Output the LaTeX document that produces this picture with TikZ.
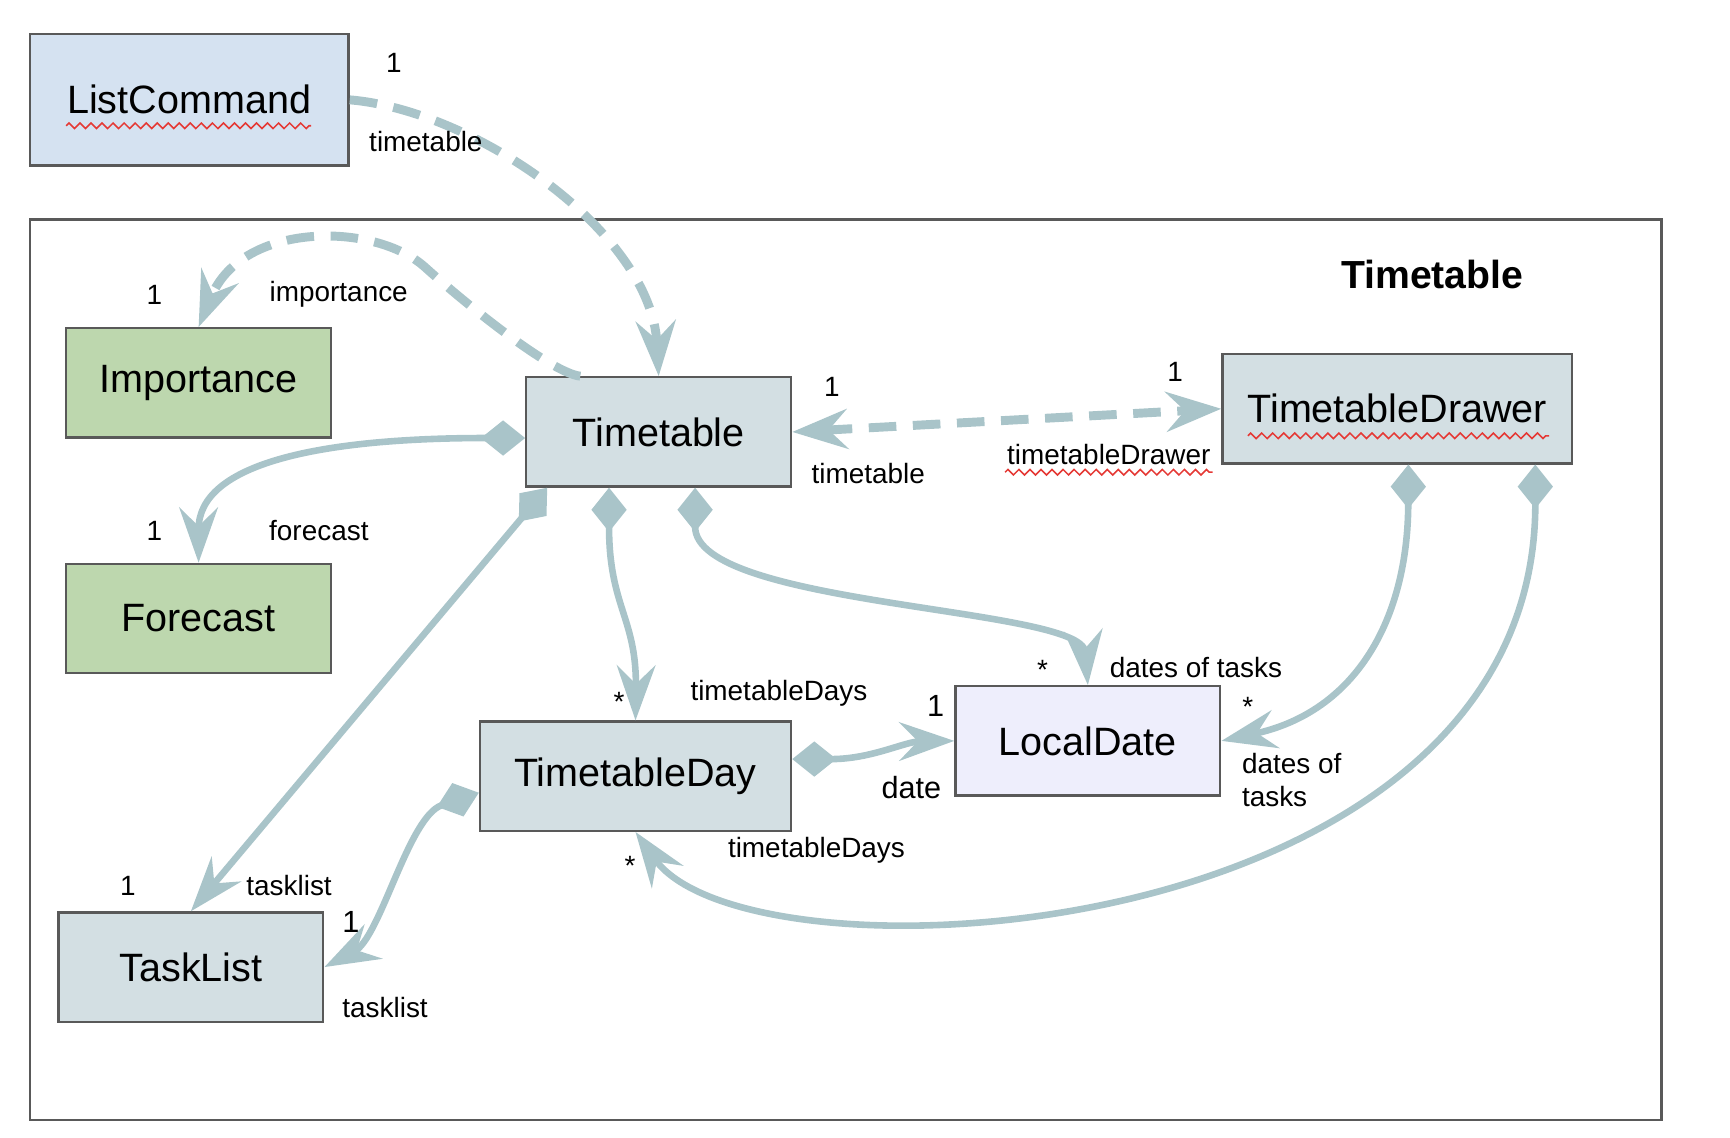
\documentclass[tikz,border=0pt]{standalone}
\usepackage{fontspec}
\setmainfont{Liberation Sans}
\usepackage{tikz}
\usetikzlibrary{arrows.meta,positioning,calc,decorations.pathmorphing}
\definecolor{TTLine}  {HTML}{A9C4C9}
\definecolor{TTBorder}{HTML}{595959}
\definecolor{TTGrey}  {HTML}{D3DFE3}
\definecolor{TTBlue}  {HTML}{D5E2F1}
\definecolor{TTGreen} {HTML}{BDD7AE}
\definecolor{TTLilac} {HTML}{EEEEFC}
\definecolor{TTRed}   {HTML}{E53935}
\tikzset{
  classbox/.style={draw=TTBorder,line width=0.6pt,minimum width=2.4cm,minimum height=0.99cm,
                   inner sep=0pt,font=\fontsize{10.2}{12}\selectfont},
  comparr/.style={{Diamond[length=4mm,width=3.2mm]}->,>={Stealth[length=5mm,width=3.5mm,inset=1.7mm]},
                  line width=1.7pt,color=TTLine},
  deparr/.style={->,>={Stealth[length=5mm,width=3.6mm,inset=1.7mm]},line width=2.3pt,color=TTLine,
                 dash pattern=on 2.5mm off 1.5mm},
  mult/.style={font=\fontsize{7.2}{8.6}\selectfont,inner sep=0pt},
  multbig/.style={font=\fontsize{7.9}{9.4}\selectfont,inner sep=0pt},
  typo/.style={draw=TTRed,line width=0.4pt,decorate,decoration={zigzag,segment length=1mm,amplitude=0.25mm}}
}
\begin{document}
\begin{tikzpicture}
  \useasboundingbox (0,0) rectangle (15.68,-10.31);
  % package frame
  \draw[TTBorder,line width=0.6pt] (0.27,-1.99) rectangle (15.06,-10.15);
  \node[font=\fontsize{10.1}{12}\selectfont\bfseries,inner sep=0pt] (pkg) at (12.98,-2.49) {Timetable};
  % classes
  \node[classbox,fill=TTBlue,minimum width=2.89cm,minimum height=1.19cm] (lc) at (1.715,-0.905) {ListCommand};
  \node[classbox,fill=TTGreen] (imp) at (1.80,-3.47) {Importance};
  \node[classbox,fill=TTGreen] (fc) at (1.80,-5.605) {Forecast};
  \node[classbox,fill=TTGrey] (tt) at (5.97,-3.915) {Timetable};
  \node[classbox,fill=TTGrey,minimum width=3.17cm] (ttd) at (12.665,-3.705) {TimetableDrawer};
  \node[classbox,fill=TTLilac] (ld) at (9.86,-6.715) {LocalDate};
  \node[classbox,fill=TTGrey,minimum width=2.82cm] (tday) at (5.76,-7.035) {TimetableDay};
  \node[classbox,fill=TTGrey] (tl) at (1.73,-8.765) {TaskList};
  % spell-check marks
  \draw[typo] (0.60,-1.14) -- (2.82,-1.14);
  \draw[typo] (11.31,-3.95) -- (14.04,-3.95);
  \draw[typo] (9.11,-4.28) -- (10.99,-4.28);
  % dependencies
  \draw[deparr] (lc.east) .. controls (4.3,-1.0) and (5.9,-2.1) .. (tt.north);
  \draw[deparr] ([xshift=5mm]tt.north west) .. controls (5.0,-3.38) and (4.25,-2.78) .. (3.85,-2.42)
                .. controls (3.4,-2.015) and (2.2,-2.0) .. (imp.north);
  \draw[deparr,<->] (tt.east) -- (ttd.west);
  % compositions
  \draw[comparr] ([yshift=-0.55mm]tt.west) .. controls (2.9,-3.97) and (1.8,-4.2) .. (fc.north);
  \draw[comparr] ([xshift=2mm]tt.south west) -- (tl.north);
  \draw[comparr] ([xshift=-4.5mm]tt.south) .. controls (5.52,-5.5) and (5.77,-5.6) .. (tday.north);
  \draw[comparr] ([xshift=3.3mm]tt.south) .. controls (6.3,-5.5) and (9.8,-5.5) .. (ld.north);
  \draw[comparr] ([yshift=1.55mm]tday.east) .. controls (7.9,-6.88) and (8.2,-6.72) .. (ld.west);
  \draw[comparr] ([yshift=-1.5mm]tday.west) .. controls (3.7,-7.4) and (3.45,-8.5) .. (tl.east);
  \draw[comparr] ([xshift=1mm]ttd.south) .. controls (12.76,-5.6) and (12.3,-6.45) .. (ld.east);
  \draw[comparr] ([xshift=12.5mm]ttd.south) .. controls (13.92,-8.6) and (6.8,-9.0) .. (tday.south);
  % role names and multiplicities
  \node[mult] (m1) at (3.57,-0.57) {1};
  \node[mult] (r1) at (3.86,-1.28) {timetable};
  \node[mult] (m2) at (1.40,-2.67) {1};
  \node[mult] (r2) at (3.07,-2.67) {importance};
  \node[mult] (m3) at (7.54,-3.51) {1};
  \node[mult] (r3) at (7.87,-4.29) {timetable};
  \node[mult] (m4) at (10.65,-3.37) {1};
  \node[mult] (r4) at (10.05,-4.12) {timetableDrawer};
  \node[mult] (m5) at (1.40,-4.81) {1};
  \node[mult] (r5) at (2.89,-4.81) {forecast};
  \node[mult] (m6) at (1.16,-8.03) {1};
  \node[mult] (r6) at (2.62,-8.03) {tasklist};
  \node[mult] (m7) at (5.61,-6.36) {*};
  \node[mult] (r7) at (7.06,-6.28) {timetableDays};
  \node[mult] (m8) at (9.45,-6.07) {*};
  \node[mult] (r8) at (10.84,-6.05) {dates of tasks};
  \node[multbig] (m9) at (8.48,-6.40) {1};
  \node[multbig] (r9) at (8.26,-7.14) {date};
  \node[multbig] (m10) at (3.18,-8.36) {1};
  \node[mult] (r10) at (3.49,-9.13) {tasklist};
  \node[mult] (m11) at (11.31,-6.41) {*};
  \node[mult,anchor=north west,align=left] (r11) at (11.25,-6.82) {dates of\\tasks};
  \node[mult] (m12) at (5.71,-7.85) {*};
  \node[mult] (r12) at (7.40,-7.71) {timetableDays};
\end{tikzpicture}
\end{document}
